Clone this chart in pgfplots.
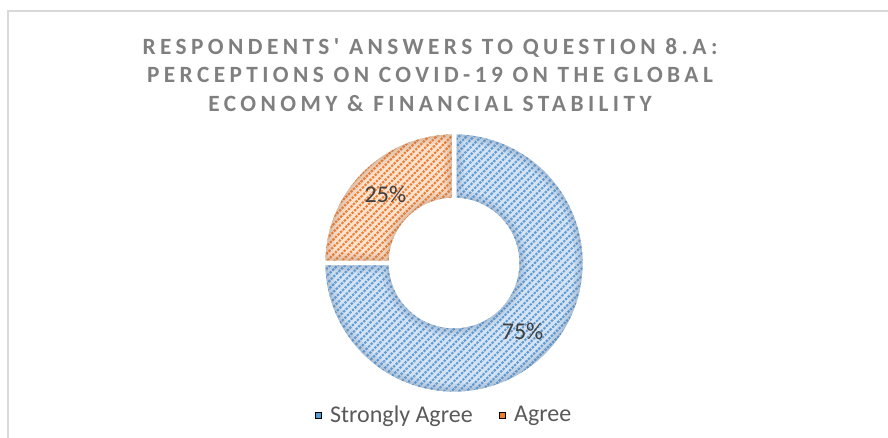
\documentclass[border=0pt]{standalone}
\usepackage{pgfplots}
\pgfplotsset{compat=1.18}
\usepackage{pgfplotstable}
\usepackage{fontspec}
\setmainfont{Carlito}
\newfontfamily\titlefont[LetterSpace=19]{Carlito}
\usetikzlibrary{patterns.meta}
\definecolor{blueMain}{HTML}{5B9BD5}
\definecolor{blueLight}{HTML}{D5E3F3}
\definecolor{blueEdge}{HTML}{5F82A8}
\definecolor{orMain}{HTML}{ED7D31}
\definecolor{orLight}{HTML}{FCE3D0}
\definecolor{orEdge}{HTML}{AE7650}
\definecolor{titleGray}{HTML}{7F7F7F}
\definecolor{labelGray}{HTML}{404040}
\definecolor{legGray}{HTML}{595959}
\definecolor{frameGray}{HTML}{D9D9D9}

\pgfplotstableread[col sep=comma]{
label,value
Strongly Agree,75
Agree,25
}\datatable

\newcommand{\edgering}[4]{%
  \draw[#3, opacity=0.12, line width=#4] (#1:131pt) arc[start angle=#1,end angle=#2,radius=131pt] -- (#2:63pt) arc[start angle=#2,end angle=#1,radius=63pt] -- cycle;}
\newcommand{\drawslice}[5]{%
  \begin{scope}
    \clip (#1:131pt) arc[start angle=#1,end angle=#2,radius=131pt] -- (#2:63pt) arc[start angle=#2,end angle=#1,radius=63pt] -- cycle;
    \fill[#3] (-140pt,-140pt) rectangle (140pt,140pt);
    \fill[pattern={Lines[angle=45,distance=5.3pt,line width=2.1pt]},pattern color=#4] (-140pt,-140pt) rectangle (140pt,140pt);
    \fill[pattern={Lines[angle=-45,distance=3.6pt,line width=1.0pt]},pattern color=#3] (-140pt,-140pt) rectangle (140pt,140pt);
    \edgering{#1}{#2}{#5}{20pt}
    \edgering{#1}{#2}{#5}{14pt}
    \edgering{#1}{#2}{#5}{9pt}
    \edgering{#1}{#2}{#5}{5pt}
  \end{scope}
  \draw[white, line width=4.5pt] (#1:131pt) arc[start angle=#1,end angle=#2,radius=131pt] -- (#2:63pt) arc[start angle=#2,end angle=#1,radius=63pt] -- cycle;
}

\begin{document}
\begin{tikzpicture}
\useasboundingbox (0,0) rectangle (888pt,438pt);
\pgfplotstablegetelem{0}{value}\of\datatable \edef\va{\pgfplotsretval}
\pgfplotstablegetelem{1}{value}\of\datatable \edef\vb{\pgfplotsretval}
\pgfmathsetmacro{\tot}{\va+\vb}
\pgfmathsetmacro{\fa}{\va/\tot}
\pgfmathsetmacro{\fb}{\vb/\tot}
\pgfmathsetmacro{\aA}{90-360*\fa}
\pgfmathsetmacro{\aB}{\aA-360*\fb}
\pgfmathsetmacro{\mA}{(90+\aA)/2}
\pgfmathsetmacro{\mB}{(\aA+\aB)/2}
\pgfmathparse{int(round(100*\fa))}\edef\pA{\pgfmathresult}
\pgfmathparse{int(round(100*\fb))}\edef\pB{\pgfmathresult}
\begin{axis}[
  at={(0,0)}, anchor=south west,
  x=1pt, y=1pt, xmin=0, xmax=888, ymin=0, ymax=438,
  hide axis, clip=false,
  legend columns=2,
  legend style={draw=none, fill=none, at={(axis cs:444,23)}, anchor=center,
    font=\fontsize{24}{28}\selectfont, text=legGray,
    /tikz/every odd column/.append style={column sep=7pt},
    /tikz/every even column/.append style={column sep=24pt}},
  legend image code/.code={\fill[#1] (0pt,-3pt) rectangle (6pt,3pt);},
]
\draw[frameGray, line width=1.3pt] (axis cs:8,0) -- (axis cs:8,427) -- (axis cs:892,427);
\begin{scope}[shift={(axis cs:454,175)}]
  \drawslice{90}{\aA}{blueLight}{blueMain}{blueEdge}
  \drawslice{\aA}{\aB}{orLight}{orMain}{orEdge}
  \node[font=\fontsize{24}{28}\selectfont, text=labelGray] at (\mA:97pt) {\pA\%};
  \node[font=\fontsize{24}{28}\selectfont, text=labelGray] at (\mB:97pt) {\pB\%};
\end{scope}
\node[align=center, text=titleGray, font=\titlefont\bfseries\fontsize{23.3}{28.5}\selectfont] at (axis cs:430,363)
  {RESPONDENTS' ANSWERS TO QUESTION 8.A:\\PERCEPTIONS ON COVID-19 ON THE GLOBAL\\ECONOMY \& FINANCIAL STABILITY};
\addlegendimage{fill=blueMain}
\addlegendentry{Strongly Agree}
\addlegendimage{fill=orMain}
\addlegendentry{Agree}
\end{axis}
\end{tikzpicture}
\end{document}
